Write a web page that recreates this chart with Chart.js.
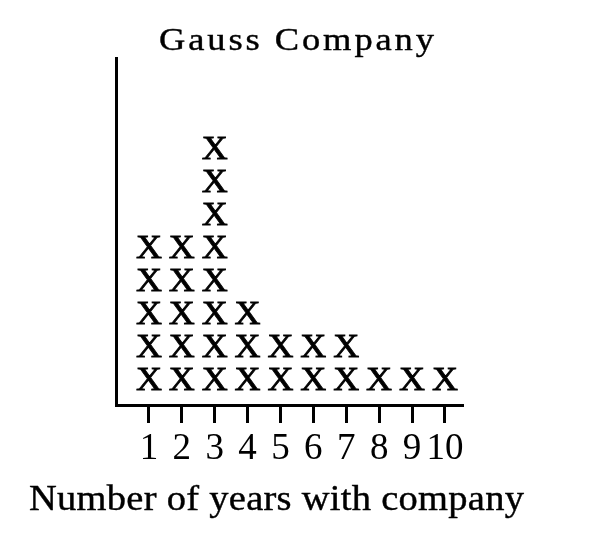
<!DOCTYPE html>
<html>
<head>
<meta charset="utf-8">
<script src="https://cdn.jsdelivr.net/npm/chart.js@4"></script>
<style>
  html, body { margin: 0; padding: 0; background: #fff; }
  canvas { display: block; }
</style>
</head>
<body>
<canvas id="c" width="594" height="548"></canvas>
<script>
const categories = [1, 2, 3, 4, 5, 6, 7, 8, 9, 10];
const counts = [5, 5, 8, 3, 2, 2, 2, 1, 1, 1];
const tickLabels = ['1', '2', '3', '4', '5', '6', '7', '8', '9', '10'];
const chartTitle = 'Gauss Company';
const xAxisTitle = 'Number of years with company';
const markText = 'X';

const FONT = '"Liberation Serif", "Times New Roman", serif';

const points = [];
categories.forEach((c, i) => {
  for (let k = 1; k <= counts[i]; k++) points.push({ x: c, y: k });
});

// draw text widened horizontally (sx) and spread to a target width
function spacedText(ctx, text, left, baseline, width, sx) {
  const chars = Array.from(text);
  const natural = chars.reduce((s, ch) => s + ctx.measureText(ch).width, 0);
  const gap = Math.max(0, (width / sx - natural) / (chars.length - 1));
  ctx.save();
  ctx.translate(left, baseline);
  ctx.scale(sx, 1);
  let x = 0;
  chars.forEach(ch => {
    ctx.fillText(ch, x, 0);
    ctx.strokeText(ch, x, 0);
    x += ctx.measureText(ch).width + gap;
  });
  ctx.restore();
}

const marksPlugin = {
  id: 'marks',
  afterDatasetsDraw(chart) {
    const ctx = chart.ctx;
    const meta = chart.getDatasetMeta(0);
    ctx.save();
    ctx.fillStyle = '#000';
    ctx.strokeStyle = '#000';
    ctx.lineWidth = 0.8;
    ctx.font = '34px ' + FONT;
    ctx.textAlign = 'center';
    ctx.textBaseline = 'alphabetic';
    meta.data.forEach(el => {
      ctx.save();
      ctx.translate(el.x, el.y + 11.3);
      ctx.scale(1.06, 1);
      ctx.fillText(markText, 0, 0);
      ctx.strokeText(markText, 0, 0);
      ctx.restore();
    });
    ctx.restore();
  }
};

const textPlugin = {
  id: 'texts',
  afterDraw(chart) {
    const ctx = chart.ctx;
    ctx.save();
    ctx.fillStyle = '#000';
    ctx.strokeStyle = '#000';
    ctx.lineWidth = 0.4;
    ctx.textAlign = 'left';
    ctx.textBaseline = 'alphabetic';
    ctx.font = '32px ' + FONT;
    spacedText(ctx, chartTitle, 159, 50, 275, 1.14);
    ctx.font = '35px ' + FONT;
    spacedText(ctx, xAxisTitle, 29, 510, 495, 1.1);
    ctx.restore();
  }
};

new Chart(document.getElementById('c'), {
  type: 'scatter',
  data: {
    datasets: [{
      data: points,
      pointRadius: 0,
      pointHoverRadius: 0,
      showLine: false
    }]
  },
  options: {
    responsive: false,
    animation: false,
    devicePixelRatio: 1,
    layout: { padding: { left: 116, right: 131, top: 58, bottom: 0 } },
    plugins: { legend: { display: false }, tooltip: { enabled: false }, title: { display: false } },
    scales: {
      x: {
        type: 'linear',
        min: 0,
        max: 10.55,
        afterBuildTicks(scale) {
          scale.ticks = categories.map(v => ({ value: v }));
        },
        afterFit(scale) { scale.height = 143; },
        ticks: {
          autoSkip: false,
          maxRotation: 0,
          color: '#000',
          padding: 4,
          font: { family: FONT, size: 37 },
          callback(value) {
            const i = categories.indexOf(value);
            return i >= 0 ? tickLabels[i] : '';
          }
        },
        grid: {
          display: true,
          drawOnChartArea: false,
          drawTicks: true,
          tickLength: 18,
          tickWidth: 3,
          tickColor: '#000'
        },
        border: { display: true, color: '#000', width: 3 }
      },
      y: {
        type: 'linear',
        min: 0.2,
        max: 10.7,
        afterFit(scale) { scale.width = 0; },
        ticks: { display: false },
        grid: { display: false },
        border: { display: true, color: '#000', width: 3 }
      }
    }
  },
  plugins: [marksPlugin, textPlugin]
});
</script>
</body>
</html>
